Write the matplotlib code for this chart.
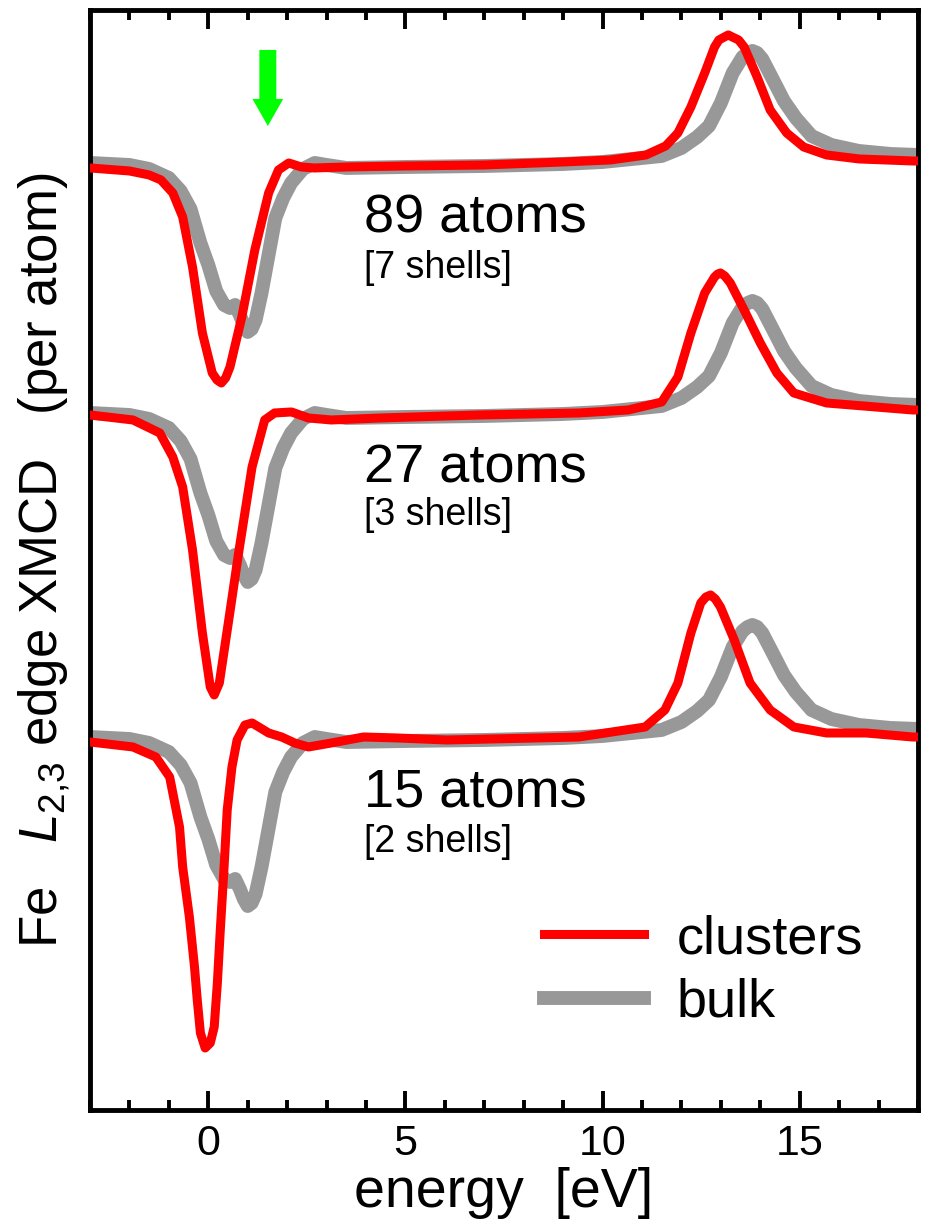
import numpy as np
import matplotlib
matplotlib.use('Agg')
import matplotlib.pyplot as plt
from matplotlib.patches import FancyArrow
from matplotlib.ticker import MultipleLocator

plt.rcParams['font.family'] = ['Liberation Sans', 'DejaVu Sans']
plt.rcParams['mathtext.fontset'] = 'custom'
plt.rcParams['mathtext.rm'] = 'Liberation Sans'
plt.rcParams['mathtext.it'] = 'Liberation Sans:italic'

# bulk spectrum (same in every panel), relative to pre-edge level
e_bulk = [-3.0, -2.0, -1.5, -1.0, -0.7, -0.45, -0.2, 0.0, 0.2, 0.4, 0.55, 0.68, 0.8,
          0.9, 1.0, 1.1, 1.2, 1.35, 1.5, 1.7, 1.9, 2.1, 2.4, 2.7, 3.0, 3.5, 5.0, 7.0,
          9.0, 10.0, 11.0, 11.5, 12.0, 12.4, 12.7, 13.0, 13.3, 13.55, 13.68, 13.8,
          13.92, 14.05, 14.3, 14.6, 14.9, 15.3, 15.8, 16.5, 17.3, 18.0]
i_bulk = [0.0, -0.02, -0.06, -0.15, -0.28, -0.46, -0.80, -1.02, -1.28, -1.42, -1.45,
          -1.42, -1.52, -1.62, -1.69, -1.66, -1.57, -1.30, -0.98, -0.55, -0.35, -0.20,
          -0.06, 0.0, -0.02, -0.05, -0.04, -0.03, -0.01, 0.01, 0.05, 0.07, 0.15, 0.26,
          0.37, 0.60, 0.90, 1.06, 1.10, 1.12, 1.10, 1.04, 0.85, 0.62, 0.45, 0.27,
          0.18, 0.12, 0.09, 0.08]

# clusters, 89 atoms
e_89 = [-3.0, -2.0, -1.5, -1.2, -0.9, -0.65, -0.4, -0.15, 0.1, 0.22, 0.33, 0.44,
        0.55, 0.85, 1.18, 1.53, 1.78, 2.04, 2.36, 2.69, 3.5, 5.0, 7.0, 9.0, 10.2,
        11.1, 11.6, 11.91, 12.24, 12.59, 12.84, 12.95, 13.09, 13.19, 13.29, 13.45,
        13.59, 13.92, 14.25, 14.67, 15.1, 15.68, 16.51, 17.86, 18.0]
i_89 = [0.0, -0.03, -0.07, -0.12, -0.25, -0.49, -0.99, -1.65, -2.05, -2.12, -2.15,
        -2.10, -1.99, -1.49, -0.82, -0.25, -0.02, 0.05, 0.01, 0.0, 0.01, 0.02, 0.03,
        0.06, 0.08, 0.13, 0.22, 0.35, 0.61, 0.95, 1.21, 1.28, 1.31, 1.33, 1.31, 1.28,
        1.21, 0.91, 0.58, 0.35, 0.21, 0.13, 0.09, 0.07, 0.07]

# clusters, 27 atoms
e_27 = [-3.0, -1.91, -1.23, -0.9, -0.65, -0.4, -0.15, 0.05, 0.15, 0.28, 0.53, 0.78,
        1.11, 1.43, 1.68, 2.11, 2.54, 3.12, 4.37, 6.88, 9.4, 10.65, 11.5, 11.91,
        12.24, 12.59, 12.84, 12.92, 12.99, 13.1, 13.24, 13.59, 14.0, 14.42, 14.85,
        15.68, 17.86, 18.0]
i_27 = [0.0, -0.05, -0.18, -0.42, -0.72, -1.35, -2.18, -2.72, -2.80, -2.68, -2.02,
        -1.35, -0.52, -0.05, 0.02, 0.03, -0.03, -0.05, -0.03, 0.0, 0.02, 0.05, 0.13,
        0.38, 0.82, 1.22, 1.38, 1.41, 1.42, 1.39, 1.32, 1.05, 0.72, 0.42, 0.22, 0.12,
        0.05, 0.05]

# clusters, 15 atoms
e_15 = [-3.0, -1.91, -1.33, -0.98, -0.73, -0.65, -0.48, -0.35, -0.28, -0.2, -0.08,
        0.05, 0.15, 0.23, 0.3, 0.4, 0.48, 0.6, 0.73, 0.93, 1.11, 1.28, 1.53, 1.86,
        2.19, 2.54, 3.12, 3.94, 4.8, 6.05, 9.4, 11.08, 11.58, 11.91, 12.24, 12.49,
        12.62, 12.74, 12.86, 12.99, 13.34, 13.74, 14.25, 14.85, 15.68, 16.68, 17.86,
        18.0]
i_15 = [0.0, -0.05, -0.15, -0.35, -0.85, -1.25, -1.75, -2.25, -2.58, -2.91, -3.06,
        -3.01, -2.85, -2.41, -1.91, -1.25, -0.68, -0.25, 0.02, 0.17, 0.19, 0.15, 0.09,
        0.05, -0.01, -0.05, -0.01, 0.05, 0.04, 0.02, 0.05, 0.15, 0.32, 0.59, 1.09,
        1.39, 1.45, 1.47, 1.43, 1.35, 1.02, 0.59, 0.32, 0.15, 0.09, 0.09, 0.05, 0.05]

labels = ['89 atoms', '27 atoms', '15 atoms']
shells = ['[7 shells]', '[3 shells]', '[2 shells]']
e_clusters = [e_89, e_27, e_15]
i_clusters = [i_89, i_27, i_15]
offset_clusters = [9.42, 6.95, 3.68]
offset_bulk = [9.47, 6.97, 3.73]
label_y = [8.77, 6.27, 3.03]
shell_y = [8.32, 5.85, 2.58]

RED = '#ff0000'
GRAY = '#989898'

fig = plt.figure(figsize=(9.27, 12.31), dpi=100)
ax = fig.add_axes([0.0971, 0.0983, 0.8932, 0.8936])

for k in range(3):
    ax.plot(e_bulk, np.array(i_bulk) + offset_bulk[k], color=GRAY, lw=10,
            solid_joinstyle='round', zorder=2, label='bulk' if k == 0 else None)
    ax.plot(e_clusters[k], np.array(i_clusters[k]) + offset_clusters[k], color=RED,
            lw=6.5, solid_joinstyle='round', zorder=3,
            label='clusters' if k == 0 else None)
    ax.text(3.95, label_y[k], labels[k], fontsize=39, ha='left', va='baseline')
    ax.text(3.95, shell_y[k], shells[k], fontsize=27, ha='left', va='baseline')

# green arrow marking the pre-edge feature
ax.add_patch(FancyArrow(1.51, 10.60, 0, -0.76, width=0.43, head_width=0.78,
                        head_length=0.27, length_includes_head=True,
                        color='#00ff00', lw=0, zorder=4))

ax.set_xlim(-3, 18)
ax.set_ylim(0, 11)
ax.xaxis.set_major_locator(MultipleLocator(5))
ax.xaxis.set_minor_locator(MultipleLocator(1))
ax.set_yticks([])
ax.tick_params(axis='x', which='both', direction='in', top=True, width=2.8)
ax.tick_params(axis='x', which='major', length=14, labelsize=31, pad=10)
ax.tick_params(axis='x', which='minor', length=7)
for sp in ax.spines.values():
    sp.set_linewidth(3.5)

ax.set_xlabel('energy  [eV]', fontsize=40, labelpad=2)
ax.set_ylabel('Fe   $L_{2{,}3}$ edge XMCD   (per atom)', fontsize=38)
ax.yaxis.set_label_coords(-0.022, 0.50)

h, l = ax.get_legend_handles_labels()
order = [l.index('clusters'), l.index('bulk')]
ax.legend([h[i] for i in order], [l[i] for i in order], loc='upper left',
          bbox_to_anchor=(0.548, 0.178), frameon=False, fontsize=39,
          borderpad=0, borderaxespad=0, handlelength=1.85, handletextpad=0.61,
          labelspacing=0.25)

fig.savefig('out.png', dpi=100, facecolor='white')
